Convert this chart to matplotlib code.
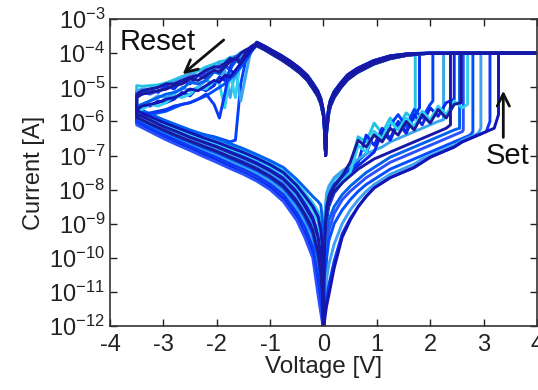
import numpy as np
import matplotlib
matplotlib.use('Agg')
import matplotlib.pyplot as plt
from matplotlib.ticker import NullLocator

plt.rcParams['font.family'] = ['Liberation Sans', 'DejaVu Sans']
plt.rcParams['axes.unicode_minus'] = False

# all currents are given as log10(I / A)
compliance = -4.0

# forward sweep 0 -> +V in the high resistance state, one list per cycle
hrs_pos_v = [0, 0.01, 0.03, 0.06, 0.1, 0.2, 0.35, 0.5, 0.65, 0.8, 0.95, 1.1, 1.25,
             1.4, 1.55, 1.7, 1.85, 2.0, 2.15, 2.3, 2.45, 2.6, 2.75, 2.9, 3.05, 3.2]
hrs_pos = [
    [-12.5, -9.9, -8.7, -8.2, -8.0, -7.7, -7.5, -7.3, -6.45, -6.6, -6.05, -6.35, -5.9, -6.2, -5.75, -5.95],
    [-12.5, -10.6, -9.4, -8.7, -8.4, -8.0, -7.7, -7.4, -7.2, -6.4, -6.7, -6.2, -6.5, -6.0, -6.3, -5.85],
    [-12.5, -10.0, -8.9, -8.4, -8.15, -7.85, -7.6, -7.35, -7.15, -6.95, -6.3, -6.55, -6.1, -5.8, -6.15, -5.65, -5.9, -5.5],
    [-12.5, -9.8, -8.6, -8.1, -7.9, -7.65, -7.45, -7.3, -7.1, -6.95, -6.85, -6.75, -6.6, -6.5, -6.4, -6.3, -6.2, -6.1, -6.0],
    [-12.5, -10.8, -9.6, -8.9, -8.5, -8.1, -7.8, -7.5, -7.3, -7.1, -6.9, -6.3, -6.55, -6.05, -6.35, -5.8, -6.1, -5.6, -5.85, -5.45],
    [-12.5, -10.9, -10.0, -9.3, -8.9, -8.5, -8.15, -7.9, -7.7, -7.5, -7.35, -7.2, -7.05, -6.95, -6.85, -6.75, -6.65, -6.55, -6.45, -6.35, -6.25],
    [-12.5, -11.2, -10.3, -9.6, -9.2, -8.7, -8.3, -8.05, -7.85, -7.65, -7.5, -7.35, -7.2, -7.1, -7.0, -6.9, -6.8, -6.7, -6.6, -6.5, -6.4, -6.3],
    [-12.5, -10.4, -9.3, -8.7, -8.4, -8.05, -7.75, -7.5, -6.7, -6.9, -6.3, -6.5, -6.0, -6.25, -5.9, -6.15, -5.7, -5.95, -5.55, -5.8, -5.4, -5.6],
    [-12.5, -11.5, -10.8, -10.0, -9.5, -9.0, -8.6, -8.3, -8.05, -7.85, -7.7, -7.55, -7.4, -7.3, -7.2, -7.1, -7.0, -6.9, -6.8, -6.7, -6.6, -6.5, -6.4],
    [-12.5, -11.8, -11.2, -10.6, -10.2, -9.6, -9.0, -8.6, -8.3, -8.05, -7.85, -7.7, -7.55, -7.45, -7.35, -7.25, -7.1, -7.0, -6.9, -6.8, -6.7, -6.55, -6.45, -6.35],
    [-12.5, -12.0, -11.6, -11.2, -10.8, -10.1, -9.3, -8.85, -8.5, -8.2, -7.95, -7.8, -7.65, -7.55, -7.45, -7.35, -7.2, -7.05, -6.95, -6.85, -6.75, -6.6, -6.5, -6.4, -6.3],
    [-12.5, -12.0, -11.7, -11.4, -11.1, -10.3, -9.4, -8.9, -8.5, -8.2, -7.95, -7.8, -7.65, -7.55, -7.45, -7.35, -7.2, -7.05, -6.95, -6.85, -6.75, -6.6, -6.5, -6.4, -6.3, -6.2],
    [-12.5, -10.2, -9.1, -8.5, -8.2, -7.9, -7.6, -7.2, -6.55, -6.75, -6.4, -6.6, -6.2, -6.4, -6.0, -6.25, -5.8, -6.05, -5.65, -5.9, -5.5],
    [-12.5, -10.4, -9.3, -8.7, -8.4, -8.05, -7.8, -7.6, -7.4, -7.25, -7.1, -7.0, -6.9, -6.8, -6.7, -6.6, -6.5, -6.4, -6.3, -6.2],
]
set_v = [1.72, 1.8, 2.05, 2.25, 2.45, 2.55, 2.62, 2.7, 2.8, 2.95, 3.12, 3.28, 2.58, 2.38]
set_i = [-5.7, -5.6, -5.4, -5.95, -5.35, -6.2, -6.25, -5.5, -6.3, -6.2, -6.0, -5.8, -5.45, -6.1]

# low resistance state, swept back from +4 V through 0 to the reset peak
lrs_v = [4.0, 2.0, 1.57, 1.25, 0.94, 0.63, 0.45, 0.32, 0.2, 0.13, 0.1, 0.06, 0.04,
         0.02, 0.0, -0.05, -0.11, -0.2, -0.3, -0.45, -0.62, -0.8, -0.93, -1.1, -1.25]
lrs_a = [-4.0, -4.0, -4.03, -4.11, -4.26, -4.5, -4.7, -4.94, -5.2, -5.46, -5.65, -6.2, -7.0,
         -6.2, -5.76, -5.4, -5.17, -4.95, -4.73, -4.5, -4.3, -4.12, -4.0, -3.85, -3.72]
lrs_b = [-4.0, -4.0, -4.06, -4.16, -4.32, -4.57, -4.78, -5.02, -5.3, -5.55, -5.75, -6.3, -7.0,
         -6.3, -5.85, -5.48, -5.25, -5.03, -4.8, -4.57, -4.37, -4.18, -4.06, -3.9, -3.78]
lrs_c = [-4.0, -4.0, -4.02, -4.08, -4.22, -4.45, -4.64, -4.88, -5.13, -5.38, -5.58, -6.1, -7.0,
         -6.1, -5.7, -5.33, -5.1, -4.88, -4.66, -4.44, -4.24, -4.06, -3.95, -3.8, -3.68]
lrs_shapes = [lrs_b, lrs_c, lrs_a]

# reset: noisy decay from the peak out to -3.5 V
reset_v = [-1.25, -1.35, -1.45, -1.55, -1.65, -1.75, -1.85, -1.95, -2.05, -2.2,
           -2.35, -2.5, -2.65, -2.8, -2.95, -3.1, -3.25, -3.4, -3.5]
reset_i = [
    [-3.72, -3.82, -3.9, -3.98, -4.1, -4.12, -4.22, -4.25, -4.32, -4.4, -4.52, -4.6, -4.68, -4.78, -4.87, -4.93, -4.95, -4.97, -4.95],
    [-3.75, -3.9, -4.05, -4.35, -4.15, -4.5, -4.35, -4.6, -4.5, -4.75, -4.65, -4.9, -4.8, -5.05, -4.95, -5.15, -5.05, -5.2, -5.15],
    [-3.72, -3.88, -4.15, -4.9, -6.55, -6.6, -6.55, -6.5, -6.45, -6.4, -6.35, -6.3, -6.25, -6.2, -6.15, -6.1, -6.05, -6.0, -5.95],
    [-3.7, -3.82, -4.6, -5.4, -4.5, -5.3, -4.5, -4.7, -4.9, -4.8, -5.0, -5.1, -5.0, -5.2, -5.3, -5.25, -5.4, -5.5, -5.55],
    [-3.74, -3.95, -4.2, -4.4, -4.6, -4.5, -4.8, -4.7, -4.95, -5.1, -5.0, -5.25, -5.15, -5.35, -5.45, -5.4, -5.55, -5.5, -5.6],
    [-3.76, -3.85, -4.0, -4.1, -4.25, -4.45, -4.4, -4.6, -4.55, -4.8, -4.9, -4.85, -5.05, -5.15, -5.2, -5.3, -5.4, -5.5, -5.6],
    [-3.72, -3.8, -3.92, -4.05, -4.1, -4.25, -4.3, -4.45, -4.4, -4.6, -4.65, -4.75, -4.85, -4.95, -5.05, -5.1, -5.2, -5.15, -5.25],
    [-3.7, -3.85, -3.95, -4.1, -5.3, -4.6, -5.6, -4.9, -4.8, -5.05, -5.0, -5.2, -5.3, -5.25, -5.45, -5.55, -5.5, -5.65, -5.75],
    [-3.75, -3.95, -4.2, -4.4, -4.6, -4.75, -4.9, -5.0, -5.1, -5.25, -5.35, -5.45, -5.5, -5.6, -5.7, -5.75, -5.8, -5.85, -5.9],
    [-3.73, -3.82, -3.98, -4.08, -4.22, -4.15, -4.35, -4.3, -4.5, -4.45, -4.65, -4.6, -4.75, -4.85, -4.9, -5.0, -5.05, -5.05, -5.1],
    [-3.72, -3.85, -4.0, -4.2, -4.15, -4.4, -5.2, -5.9, -5.5, -5.2, -5.35, -5.45, -5.5, -5.55, -5.65, -5.7, -5.75, -5.8, -5.85],
    [-3.76, -3.9, -4.1, -4.3, -4.5, -4.7, -4.65, -4.85, -4.8, -4.95, -5.1, -5.05, -5.2, -5.3, -5.35, -5.45, -5.5, -5.55, -5.65],
    [-3.7, -3.8, -3.95, -4.3, -4.15, -4.25, -4.4, -4.55, -4.5, -4.65, -4.8, -4.75, -4.9, -4.95, -5.05, -5.1, -5.15, -5.2, -5.3],
    [-3.72, -3.84, -3.9, -4.0, -4.2, -4.15, -4.3, -4.4, -4.4, -4.5, -4.65, -4.7, -4.8, -4.9, -4.9, -5.0, -5.05, -5.1, -5.2],
]

# return sweep -3.5 V -> 0 in the high resistance state
hrs_neg_v = [-3.5, -3.25, -3.0, -2.75, -2.5, -2.25, -2.0, -1.75, -1.5, -1.25,
             -1.0, -0.75, -0.5, -0.35, -0.2, -0.1, -0.05, -0.02, -0.01, 0]
hrs_neg = [
    [-5.65, -5.83, -6.0, -6.15, -6.3, -6.45, -6.57, -6.72, -6.87, -7.05, -7.23, -7.45, -7.82, -8.1, -8.4, -8.65, -8.95, -9.4, -9.9, -12.5],
    [-5.75, -5.93, -6.12, -6.28, -6.44, -6.58, -6.72, -6.87, -7.03, -7.2, -7.4, -7.65, -8.05, -8.4, -8.8, -9.3, -9.8, -10.4, -10.9, -12.5],
    [-5.85, -6.05, -6.22, -6.39, -6.55, -6.7, -6.85, -7.02, -7.18, -7.36, -7.58, -7.85, -8.3, -8.67, -9.1, -9.7, -10.3, -10.9, -11.3, -12.5],
    [-5.95, -6.15, -6.33, -6.5, -6.67, -6.83, -6.99, -7.16, -7.33, -7.52, -7.75, -8.05, -8.55, -8.95, -9.5, -10.3, -10.9, -11.4, -11.7, -12.5],
    [-6.05, -6.25, -6.45, -6.62, -6.8, -6.97, -7.14, -7.32, -7.5, -7.69, -7.93, -8.26, -8.8, -9.28, -9.85, -10.9, -11.5, -11.8, -12.0, -12.5],
    [-5.6, -5.78, -5.95, -6.1, -6.25, -6.38, -6.5, -6.65, -6.8, -6.97, -7.15, -7.35, -7.7, -7.95, -8.2, -8.35, -8.45, -8.9, -9.6, -12.5],
    [-6.1, -6.3, -6.5, -6.68, -6.85, -7.03, -7.2, -7.38, -7.55, -7.75, -8.0, -8.35, -8.9, -9.4, -10.0, -11.1, -11.6, -11.9, -12.1, -12.5],
    [-5.7, -5.88, -6.06, -6.22, -6.37, -6.51, -6.65, -6.8, -6.95, -7.12, -7.32, -7.55, -7.93, -8.25, -8.6, -8.95, -9.4, -9.9, -10.4, -12.5],
    [-5.9, -6.1, -6.28, -6.45, -6.61, -6.77, -6.92, -7.09, -7.26, -7.44, -7.66, -7.95, -8.42, -8.8, -9.3, -10.0, -10.6, -11.2, -11.5, -12.5],
    [-5.8, -5.99, -6.17, -6.33, -6.5, -6.64, -6.79, -6.95, -7.1, -7.28, -7.5, -7.75, -8.18, -8.55, -8.95, -9.5, -10.05, -10.6, -11.1, -12.5],
    [-6.0, -6.2, -6.39, -6.56, -6.73, -6.9, -7.06, -7.24, -7.41, -7.6, -7.84, -8.15, -8.68, -9.1, -9.7, -10.6, -11.2, -11.6, -11.85, -12.5],
    [-5.68, -5.86, -6.03, -6.18, -6.33, -6.48, -6.61, -6.76, -6.91, -7.08, -7.27, -7.5, -7.88, -8.18, -8.5, -8.8, -9.2, -9.7, -10.2, -12.5],
    [-5.88, -6.07, -6.25, -6.42, -6.58, -6.73, -6.88, -7.05, -7.22, -7.4, -7.62, -7.9, -8.36, -8.73, -9.2, -9.85, -10.45, -11.05, -11.4, -12.5],
    [-5.78, -5.96, -6.15, -6.3, -6.47, -6.61, -6.75, -6.91, -7.07, -7.24, -7.45, -7.7, -8.1, -8.48, -8.88, -9.4, -9.95, -10.5, -11.0, -12.5],
]

# later cycles are drawn on top, so the last three are the dark ones
colors = ['#22c4e6', '#0a2cf0', '#0040ff', '#3aa6f0', '#0a28e8', '#0060f0', '#2a50ff',
          '#30d0f0', '#0050ff', '#40a0f0', '#0a3af5', '#1414b4', '#1a1a9c', '#1818a8']

fig = plt.figure(figsize=(5.38, 3.9), dpi=100)
ax = fig.add_axes([0.2045, 0.164, 0.7935, 0.787])

for k in range(len(hrs_pos)):
    up = hrs_pos[k]
    v = list(hrs_pos_v[:len(up)]) + [set_v[k], set_v[k]] + lrs_v + reset_v + hrs_neg_v
    logi = list(up) + [set_i[k], compliance] + lrs_shapes[k % 3] + reset_i[k] + hrs_neg[k]
    ax.plot(v, 10.0 ** np.array(logi), color=colors[k], lw=2.1, solid_joinstyle='round')

ax.set_yscale('log')
ax.set_xlim(-4, 4)
ax.set_ylim(1e-12, 1e-3)
ax.set_xticks(range(-4, 5))
ax.set_yticks([10.0 ** p for p in range(-12, -2)])
ax.yaxis.set_minor_locator(NullLocator())
ax.tick_params(direction='in', top=True, right=True, length=5, width=1,
               labelsize=17, colors='#222222')
ax.tick_params(axis='x', pad=6)
for s in ax.spines.values():
    s.set_linewidth(1.2)
    s.set_color('#333333')

ax.set_xlabel('Voltage [V]', fontsize=17.5, labelpad=0, color='#222222')
ax.set_ylabel('Current [A]', fontsize=17, labelpad=3, color='#222222')

# switching annotations
ax.text(-3.82, 10 ** -3.92, 'Reset', fontsize=21, color='#111111')
ax.annotate('', xy=(-2.68, 10 ** -4.67), xytext=(-1.83, 10 ** -3.56),
            arrowprops=dict(arrowstyle='->', lw=2, color='#111111', mutation_scale=22))
ax.text(3.45, 10 ** -6.6, 'Set', fontsize=21, color='#111111', ha='center', va='top')
ax.annotate('', xy=(3.37, 10 ** -5.02), xytext=(3.37, 10 ** -6.55),
            arrowprops=dict(arrowstyle='->', lw=2, color='#111111', mutation_scale=22))

fig.savefig('out.png', dpi=100)
